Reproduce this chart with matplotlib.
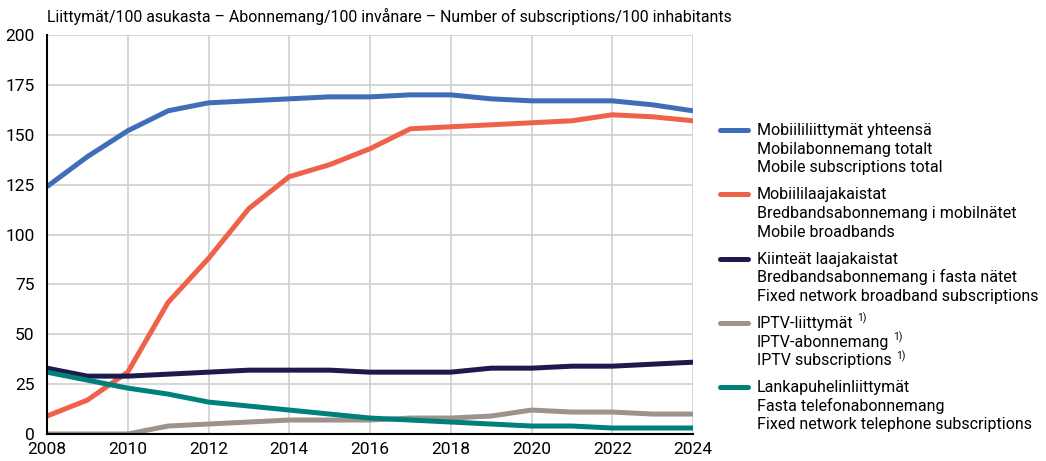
import matplotlib
matplotlib.use('Agg')
import matplotlib.pyplot as plt
from matplotlib.lines import Line2D

# Data
vuodet = list(range(2008, 2025))
mobiili = [124, 139, 152, 162, 166, 167, 168, 169, 169, 170, 170, 168, 167, 167, 167, 165, 162]
mobiili_laajakaista = [9, 17, 31, 66, 88, 113, 129, 135, 143, 153, 154, 155, 156, 157, 160, 159, 157]
kiintea_laajakaista = [33, 29, 29, 30, 31, 32, 32, 32, 31, 31, 31, 33, 33, 34, 34, 35, 36]
iptv = [0, 0, 0, 4, 5, 6, 7, 7, 7, 8, 8, 9, 12, 11, 11, 10, 10]
lankapuhelin = [31, 27, 23, 20, 16, 14, 12, 10, 8, 7, 6, 5, 4, 4, 3, 3, 3]

sarjat = [
    (mobiili, '#3F6DB8',
     ['Mobiililiittymät yhteensä', 'Mobilabonnemang totalt', 'Mobile subscriptions total'], False),
    (mobiili_laajakaista, '#EE624A',
     ['Mobiililaajakaistat', 'Bredbandsabonnemang i mobilnätet', 'Mobile broadbands'], False),
    (kiintea_laajakaista, '#1D1B4E',
     ['Kiinteät laajakaistat', 'Bredbandsabonnemang i fasta nätet', 'Fixed network broadband subscriptions'], False),
    (iptv, '#9E928D',
     ['IPTV-liittymät', 'IPTV-abonnemang', 'IPTV subscriptions'], True),
    (lankapuhelin, '#00807A',
     ['Lankapuhelinliittymät', 'Fasta telefonabonnemang', 'Fixed network telephone subscriptions'], False),
]

plt.rcParams['font.family'] = ['Roboto', 'DejaVu Sans']

W, H = 1046, 461
fig = plt.figure(figsize=(W / 100, H / 100), dpi=100)
ax = fig.add_axes([47 / W, 1 - 434 / H, 646 / W, 399 / H])

for arvot, vari, nimet, _ in sarjat:
    ax.plot(vuodet, arvot, color=vari, lw=3.6,
            solid_capstyle='butt', solid_joinstyle='round')

ax.set_xlim(2008, 2024)
ax.set_ylim(0, 200)
ax.set_xticks(range(2008, 2025, 2))
ax.set_yticks(range(0, 201, 25))
ax.grid(True, color='#D0D0D0', lw=1.2)
ax.set_axisbelow(True)
for s in ['top', 'right']:
    ax.spines[s].set_visible(False)
for s in ['left', 'bottom']:
    ax.spines[s].set_color('black')
    ax.spines[s].set_linewidth(1.5)
ax.tick_params(length=0, labelsize=12.5)
ax.tick_params(axis='y', pad=9)
ax.tick_params(axis='x', pad=6)

fig.text(47 / W, 1 - 22 / H,
         'Liittymät/100 asukasta – Abonnemang/100 invånare – Number of subscriptions/100 inhabitants',
         fontsize=11.4, ha='left', va='baseline')

# Selite käsin, jotta viiva on ensimmäisen rivin kohdalla
renderer = fig.canvas.get_renderer()
for i, (arvot, vari, nimet, alaviite) in enumerate(sarjat):
    y0 = 130 + i * 64.3
    fig.add_artist(Line2D([720 / W, 748 / W], [1 - y0 / H, 1 - y0 / H],
                          color=vari, lw=3.6, solid_capstyle='round'))
    for j, nimi in enumerate(nimet):
        yb = y0 + 5 + j * 18.6
        t = fig.text(757 / W, 1 - yb / H, nimi, fontsize=11.5, ha='left', va='baseline')
        if alaviite:
            x1 = t.get_window_extent(renderer).x1
            fig.text((x1 + 4) / W, 1 - (yb - 6) / H, '1)', fontsize=7.5,
                     ha='left', va='baseline')

fig.savefig('out.png', dpi=100)
